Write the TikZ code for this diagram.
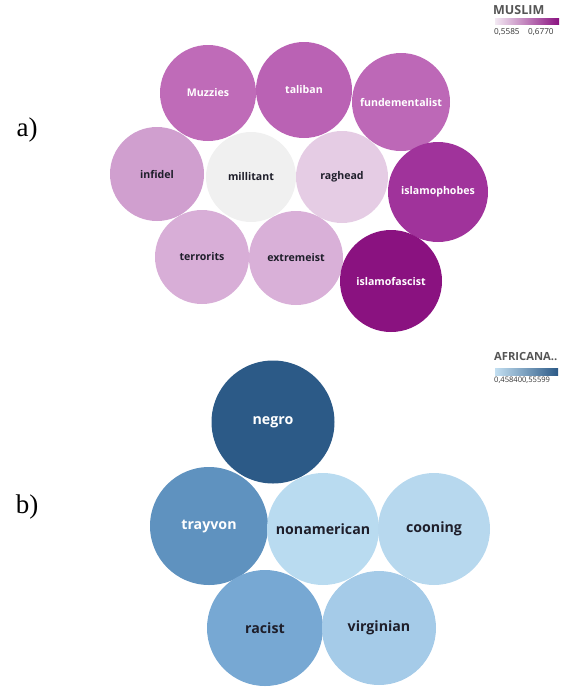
\documentclass[tikz,border=0pt]{standalone}
\usepackage{fontspec}
\setmainfont{Liberation Serif}
\newfontfamily\bubblefont{Open Sans}
\usetikzlibrary{positioning}

% purple scale (MUSLIM)
\definecolor{pM1}{HTML}{BF6BB8}
\definecolor{pM2}{HTML}{BA62B4}
\definecolor{pM3}{HTML}{BD68B7}
\definecolor{pInf}{HTML}{D09FCF}
\definecolor{pMil}{HTML}{F0F0F0}
\definecolor{pRag}{HTML}{E5CCE4}
\definecolor{pPho}{HTML}{A0339B}
\definecolor{pTer}{HTML}{D8AED7}
\definecolor{pExt}{HTML}{D9B0D8}
\definecolor{pFas}{HTML}{8A1280}
\definecolor{pLow}{HTML}{F3E9F3}
% blue scale (AFRICANA..)
\definecolor{bNeg}{HTML}{2C5A87}
\definecolor{bTra}{HTML}{5F92BF}
\definecolor{bNon}{HTML}{B9DBF0}
\definecolor{bCoo}{HTML}{B7D8EE}
\definecolor{bRac}{HTML}{77A8D3}
\definecolor{bVir}{HTML}{A5CBE8}
\definecolor{bLow}{HTML}{C3DFF1}
\definecolor{darktext}{HTML}{1E1E2A}
\definecolor{legendtitle}{HTML}{555555}

\tikzset{
  bubble/.style args={#1/#2}{circle, fill=#1, draw=none, inner sep=0pt,
    minimum size=#2, font=\bubblefont\bfseries\fontsize{10.6}{12}\selectfont},
  bigbubble/.style args={#1/#2}{bubble=#1/#2, font=\bubblefont\bfseries\fontsize{14.2}{16}\selectfont},
  lighttxt/.style={text=white},
  darktxt/.style={text=darktext},
  panel/.style={font=\fontsize{27}{30}\selectfont, text=black, inner sep=0pt},
  legtitle/.style={font=\bubblefont\bfseries\fontsize{12.5}{14}\selectfont, text=legendtitle, inner sep=0pt, anchor=west},
  legval/.style={font=\bubblefont\fontsize{8.2}{10}\selectfont, text=black!80, inner sep=0pt, anchor=west},
}

\begin{document}
\begin{tikzpicture}[x=1pt,y=-1pt]
\useasboundingbox (0,0) rectangle (576,691);

% ---------- panel a) ----------
\node[panel] (la) at (27,130) {a)};

\node[bubble=pM1/96, lighttxt] (muz) at (208,93) {Muzzies};
\node[bubble=pM2/96, lighttxt] (tal) at (304,90) {taliban};
\node[bubble=pM3/98, lighttxt] (fun) at (401,102) {fundementalist};
\node[bubble=pInf/94, darktxt] (inf) at (157,174) {infidel};
\node[bubble=pMil/90, darktxt] (mil) at (251,177) {millitant};
\node[bubble=pRag/92, darktxt] (rag) at (342,177) {raghead};
\node[bubble=pPho/100, lighttxt] (pho) at (438,192) {islamophobes};
\node[bubble=pTer/94, darktxt] (ter) at (202,257) {terrorits};
\node[bubble=pExt/94, darktxt] (ext) at (296,258) {extremeist};
\node[bubble=pFas/102, lighttxt] (fas) at (391,281) {islamofascist};

% legend a)
\node[legtitle] (lta) at (493,10) {MUSLIM};
\shade[left color=pLow, right color=pFas] (495,18) rectangle (559,24);
\node[legval] (va1) at (494,32) {0,5585};
\node[legval] (va2) at (528,32) {0,6770};

% ---------- panel b) ----------
\node[panel] (lb) at (27,507) {b)};

\node[bigbubble=bNeg/123, lighttxt] (neg) at (273,422) {negro};
\node[bigbubble=bTra/118, lighttxt] (tra) at (209,526) {trayvon};
\node[bigbubble=bNon/112, darktxt] (non) at (323,529) {nonamerican};
\node[bigbubble=bCoo/112, darktxt] (coo) at (434,529) {cooning};
\node[bigbubble=bRac/116, darktxt] (rac) at (265,628) {racist};
\node[bigbubble=bVir/114, darktxt] (vir) at (379,628) {virginian};

% legend b)
\node[legtitle, font=\bubblefont\bfseries\fontsize{11.2}{13}\selectfont] (ltb) at (494,357) {AFRICANA..};
\shade[left color=bLow, right color=bNeg] (495,368) rectangle (558,375);
\node[legval, font=\bubblefont\fontsize{7.6}{9}\selectfont] (vb) at (494,380) {0,458400,55599};
\end{tikzpicture}
\end{document}
